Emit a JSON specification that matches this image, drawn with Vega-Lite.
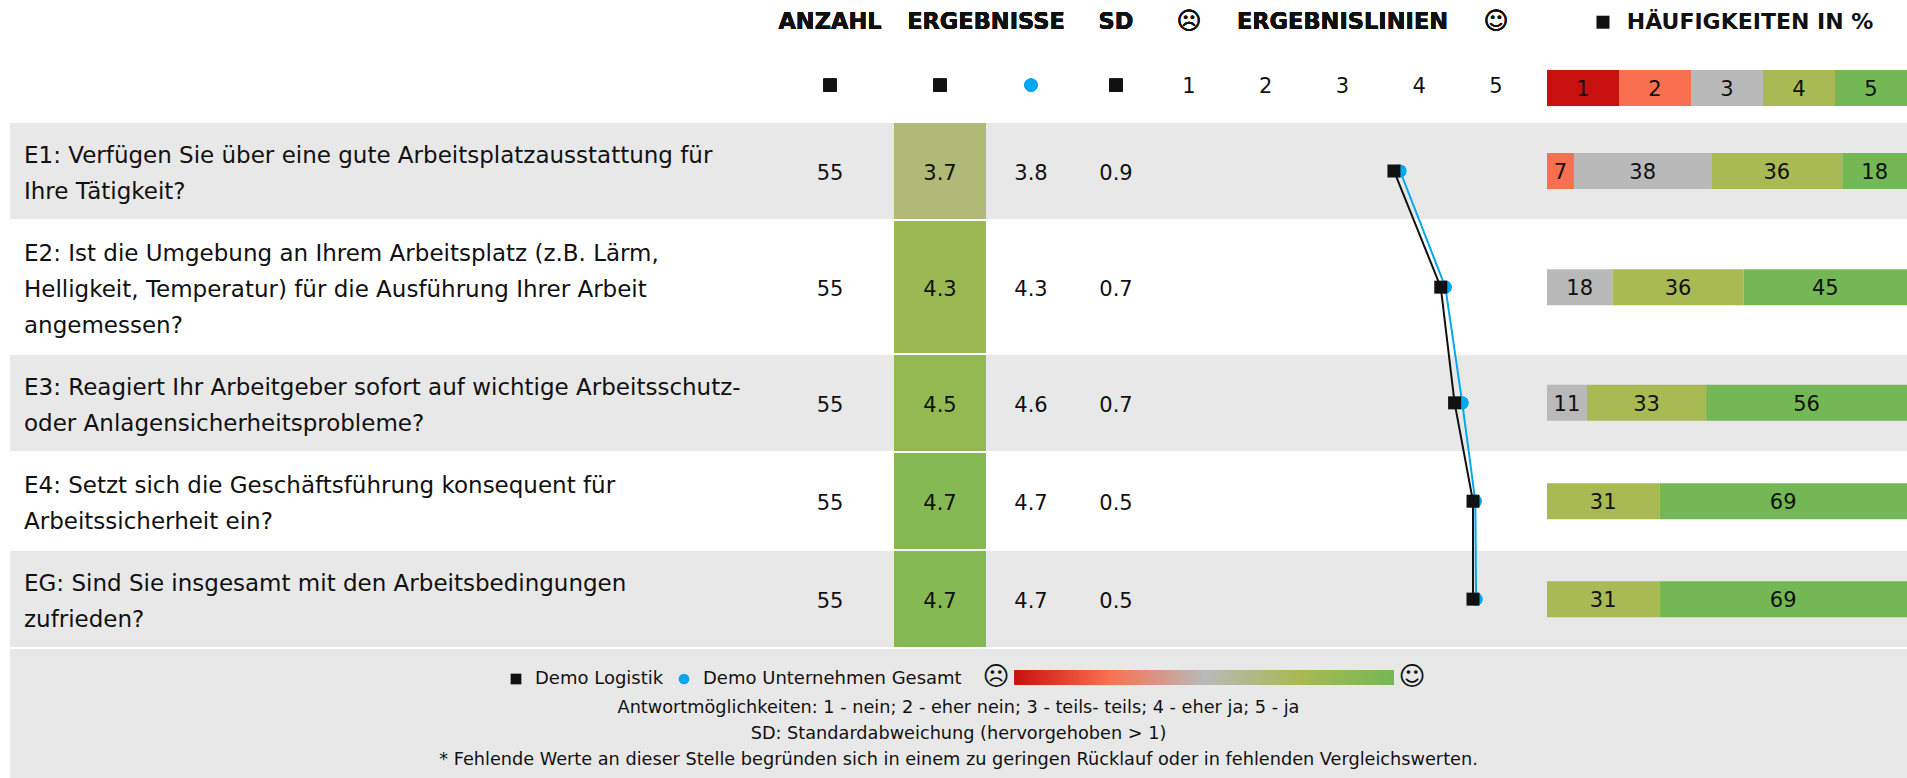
{
"$schema":"https://vega.github.io/schema/vega-lite/v6.json",
"padding":{"left":10,"top":0,"right":0,"bottom":0},
"spacing":2,
"config":{"view":{"stroke":null},"axis":{"disable":true},"text":{"font":"DejaVu Sans","fontSize":21,"color":"#111111"},"concat":{"spacing":0}},
"datasets":{
"rows":[
{"id":"E1","question":"E1: Verfügen Sie über eine gute Arbeitsplatzausstattung für\nIhre Tätigkeit?","n":55,"own":3.67,"other":3.75,"sd":0.9,"rowStart":0,"rowEnd":2,"mid":1},
{"id":"E2","question":"E2: Ist die Umgebung an Ihrem Arbeitsplatz (z.B. Lärm,\nHelligkeit, Temperatur) für die Ausführung Ihrer Arbeit\nangemessen?","n":55,"own":4.28,"other":4.34,"sd":0.7,"rowStart":2,"rowEnd":4.833,"mid":3.42},
{"id":"E3","question":"E3: Reagiert Ihr Arbeitgeber sofort auf wichtige Arbeitsschutz-\noder Anlagensicherheitsprobleme?","n":55,"own":4.46,"other":4.56,"sd":0.7,"rowStart":4.833,"rowEnd":6.833,"mid":5.83},
{"id":"E4","question":"E4: Setzt sich die Geschäftsführung konsequent für\nArbeitssicherheit ein?","n":55,"own":4.7,"other":4.73,"sd":0.5,"rowStart":6.833,"rowEnd":8.917,"mid":7.88},
{"id":"EG","question":"EG: Sind Sie insgesamt mit den Arbeitsbedingungen\nzufrieden?","n":55,"own":4.7,"other":4.74,"sd":0.5,"rowStart":8.917,"rowEnd":10.917,"mid":9.92}
],
"freq":[
{"id":"key","mid":-0.73,"answer":1,"pct":20},{"id":"key","mid":-0.73,"answer":2,"pct":20},{"id":"key","mid":-0.73,"answer":3,"pct":20},{"id":"key","mid":-0.73,"answer":4,"pct":20},{"id":"key","mid":-0.73,"answer":5,"pct":20},
{"id":"E1","mid":1,"answer":2,"pct":7.49},{"id":"E1","mid":1,"answer":3,"pct":38.18},{"id":"E1","mid":1,"answer":4,"pct":36.36},{"id":"E1","mid":1,"answer":5,"pct":17.97},
{"id":"E2","mid":3.42,"answer":3,"pct":18.18},{"id":"E2","mid":3.42,"answer":4,"pct":36.45},{"id":"E2","mid":3.42,"answer":5,"pct":45.37},
{"id":"E3","mid":5.83,"answer":3,"pct":11.1},{"id":"E3","mid":5.83,"answer":4,"pct":33.1},{"id":"E3","mid":5.83,"answer":5,"pct":55.8},
{"id":"E4","mid":7.88,"answer":4,"pct":31.2},{"id":"E4","mid":7.88,"answer":5,"pct":68.8},
{"id":"EG","mid":9.92,"answer":4,"pct":31.2},{"id":"EG","mid":9.92,"answer":5,"pct":68.8}
]
},
"vconcat":[
{"hconcat":[
{"width":766,"height":647,"data":{"name":"rows"},"layer":[
{"transform":[{"filter":"indexof(['E1','E3','EG'],datum.id)>=0"}],"mark":{"type":"rect","color":"#e8e8e8"},"encoding":{"y":{"field":"rowStart","type":"quantitative","scale":{"domain":[-2.5625,10.917],"reverse":true,"nice":false,"zero":false}},"y2":{"field":"rowEnd"}}},
{"transform":[{"calculate":"datum.mid-(length(split(datum.question,'\\n'))-1)*0.375","as":"firstLine"}],"mark":{"type":"text","align":"left","dx":14,"dy":3,"fontSize":23,"lineBreak":"\n","lineHeight":36},"encoding":{"x":{"datum":0,"type":"quantitative","scale":{"domain":[0,1]}},"y":{"field":"firstLine","type":"quantitative"},"text":{"field":"question"}}}
]},
{"width":108,"height":647,"data":{"name":"rows"},"layer":[
{"transform":[{"filter":"indexof(['E1','E3','EG'],datum.id)>=0"}],"mark":{"type":"rect","color":"#e8e8e8"},"encoding":{"y":{"field":"rowStart","type":"quantitative","scale":{"domain":[-2.5625,10.917],"reverse":true,"nice":false,"zero":false}},"y2":{"field":"rowEnd"}}},
{"mark":{"type":"text","dy":3},"encoding":{"y":{"field":"mid","type":"quantitative"},"text":{"field":"n"}}},
{"mark":{"type":"text","fontWeight":"bold","fontSize":22.5},"encoding":{"y":{"datum":-2.1,"type":"quantitative"},"text":{"value":"ANZAHL"}}},
{"mark":{"type":"point","shape":"square","filled":true,"size":169,"color":"#111111","opacity":1},"encoding":{"y":{"datum":-0.79,"type":"quantitative"}}}
]},
{"width":10,"height":647,"data":{"name":"rows"},"layer":[
{"transform":[{"filter":"indexof(['E1','E3','EG'],datum.id)>=0"}],"mark":{"type":"rect","color":"#e8e8e8"},"encoding":{"y":{"field":"rowStart","type":"quantitative","scale":{"domain":[-2.5625,10.917],"reverse":true,"nice":false,"zero":false}},"y2":{"field":"rowEnd"}}}
]},
{"width":92,"height":647,"data":{"name":"rows"},"layer":[
{"mark":{"type":"rect"},"encoding":{"y":{"field":"rowStart","type":"quantitative","scale":{"domain":[-2.5625,10.917],"reverse":true,"nice":false,"zero":false}},"y2":{"field":"rowEnd"},"color":{"field":"own","type":"quantitative","legend":null,"scale":{"domain":[1,2,3,4,5],"range":["#c8100e","#f97050","#b9b9b9","#a9b953","#74b855"]}}}},
{"data":{"values":[{"gap":2.02},{"gap":4.8125},{"gap":6.854},{"gap":8.896}]},"mark":{"type":"rule","color":"#ffffff","size":2},"encoding":{"y":{"field":"gap","type":"quantitative"}}},
{"mark":{"type":"text","dy":3},"encoding":{"y":{"field":"mid","type":"quantitative"},"text":{"field":"own","format":".1f"}}},
{"mark":{"type":"text","fontWeight":"bold","fontSize":22.5},"encoding":{"x":{"datum":1,"type":"quantitative","scale":{"domain":[0,1]}},"y":{"datum":-2.1,"type":"quantitative"},"text":{"value":"ERGEBNISSE"}}},
{"mark":{"type":"point","shape":"square","filled":true,"size":169,"color":"#111111","opacity":1},"encoding":{"y":{"datum":-0.79,"type":"quantitative"}}}
]},
{"width":90,"height":647,"data":{"name":"rows"},"layer":[
{"transform":[{"filter":"indexof(['E1','E3','EG'],datum.id)>=0"}],"mark":{"type":"rect","color":"#e8e8e8"},"encoding":{"y":{"field":"rowStart","type":"quantitative","scale":{"domain":[-2.5625,10.917],"reverse":true,"nice":false,"zero":false}},"y2":{"field":"rowEnd"}}},
{"mark":{"type":"text","dy":3},"encoding":{"y":{"field":"mid","type":"quantitative"},"text":{"field":"other","format":".1f"}}},
{"mark":{"type":"point","shape":"circle","filled":true,"size":175,"color":"#00a8f0","opacity":1},"encoding":{"y":{"datum":-0.79,"type":"quantitative"}}}
]},
{"width":80,"height":647,"data":{"name":"rows"},"layer":[
{"transform":[{"filter":"indexof(['E1','E3','EG'],datum.id)>=0"}],"mark":{"type":"rect","color":"#e8e8e8"},"encoding":{"y":{"field":"rowStart","type":"quantitative","scale":{"domain":[-2.5625,10.917],"reverse":true,"nice":false,"zero":false}},"y2":{"field":"rowEnd"}}},
{"mark":{"type":"text","dy":3},"encoding":{"y":{"field":"mid","type":"quantitative"},"text":{"field":"sd","format":".1f"}}},
{"mark":{"type":"text","fontWeight":"bold","fontSize":22.5},"encoding":{"y":{"datum":-2.1,"type":"quantitative"},"text":{"value":"SD"}}},
{"mark":{"type":"point","shape":"square","filled":true,"size":169,"color":"#111111","opacity":1},"encoding":{"y":{"datum":-0.79,"type":"quantitative"}}}
]},
{"width":391,"height":647,"data":{"name":"rows"},"layer":[
{"transform":[{"filter":"indexof(['E1','E3','EG'],datum.id)>=0"}],"mark":{"type":"rect","color":"#e8e8e8"},"encoding":{"y":{"field":"rowStart","type":"quantitative","scale":{"domain":[-2.5625,10.917],"reverse":true,"nice":false,"zero":false}},"y2":{"field":"rowEnd"}}},
{"mark":{"type":"line","color":"#00a8f0","strokeWidth":2},"encoding":{"x":{"field":"other","type":"quantitative","scale":{"domain":[0.57,5.664],"nice":false,"zero":false}},"y":{"field":"mid","type":"quantitative"},"order":{"field":"mid"}}},
{"mark":{"type":"line","color":"#111111","strokeWidth":2},"encoding":{"x":{"field":"own","type":"quantitative"},"y":{"field":"mid","type":"quantitative"},"order":{"field":"mid"}}},
{"mark":{"type":"point","shape":"circle","filled":true,"size":175,"color":"#00a8f0","opacity":1},"encoding":{"x":{"field":"other","type":"quantitative"},"y":{"field":"mid","type":"quantitative"}}},
{"mark":{"type":"point","shape":"square","filled":true,"size":169,"color":"#111111","opacity":1},"encoding":{"x":{"field":"own","type":"quantitative"},"y":{"field":"mid","type":"quantitative"}}},
{"data":{"values":[{"score":1},{"score":2},{"score":3},{"score":4},{"score":5}]},"mark":{"type":"text","dy":2},"encoding":{"x":{"field":"score","type":"quantitative"},"y":{"datum":-0.79,"type":"quantitative"},"text":{"field":"score"}}},
{"mark":{"type":"text","fontWeight":"bold","fontSize":22.5},"encoding":{"x":{"datum":3,"type":"quantitative"},"y":{"datum":-2.1,"type":"quantitative"},"text":{"value":"ERGEBNISLINIEN"}}},
{"mark":{"type":"text","fontSize":24},"encoding":{"x":{"datum":1,"type":"quantitative"},"y":{"datum":-2.1,"type":"quantitative"},"text":{"value":"☹"}}},
{"mark":{"type":"text","fontSize":24},"encoding":{"x":{"datum":5,"type":"quantitative"},"y":{"datum":-2.1,"type":"quantitative"},"text":{"value":"☺"}}}
]},
{"width":360,"height":647,"layer":[
{"data":{"name":"rows"},"transform":[{"filter":"indexof(['E1','E3','EG'],datum.id)>=0"}],"mark":{"type":"rect","color":"#e8e8e8"},"encoding":{"x":{"datum":0,"type":"quantitative","scale":{"domain":[0,100],"nice":false,"zero":false}},"x2":{"datum":100},"y":{"field":"rowStart","type":"quantitative","scale":{"domain":[-2.5625,10.917],"reverse":true,"nice":false,"zero":false,"padding":0}},"y2":{"field":"rowEnd"}}},
{"data":{"name":"freq"},"transform":[{"stack":"pct","groupby":["id"],"sort":[{"field":"answer","order":"ascending"}],"as":["x0","x1"]}],"mark":{"type":"bar","orient":"horizontal","size":36,"clip":true},"encoding":{"x":{"field":"x0","type":"quantitative"},"x2":{"field":"x1"},"y":{"field":"mid","type":"quantitative"},"color":{"field":"answer","type":"ordinal","legend":null,"scale":{"domain":[1,2,3,4,5],"range":["#c8100e","#f97050","#b9b9b9","#a9b953","#74b855"]}}}},
{"data":{"name":"freq"},"transform":[{"stack":"pct","groupby":["id"],"sort":[{"field":"answer","order":"ascending"}],"as":["x0","x1"]},{"calculate":"(datum.x0+datum.x1)/2","as":"xm"},{"calculate":"datum.id==='key'?datum.answer:round(datum.pct)","as":"label"}],"mark":{"type":"text","dy":2},"encoding":{"x":{"field":"xm","type":"quantitative"},"y":{"field":"mid","type":"quantitative"},"text":{"field":"label"}}},
{"data":{"values":[{"label":"HÄUFIGKEITEN IN %"}]},"mark":{"type":"text","fontWeight":"bold","fontSize":22},"encoding":{"x":{"datum":56.4,"type":"quantitative"},"y":{"datum":-2.1,"type":"quantitative"},"text":{"field":"label"}}},
{"data":{"values":[{"label":"key"}]},"mark":{"type":"point","shape":"square","filled":true,"size":169,"color":"#111111","opacity":1},"encoding":{"x":{"datum":15.55,"type":"quantitative"},"y":{"datum":-2.1,"type":"quantitative"}}}
]}
],"spacing":0,"bounds":"flush"},
{"width":1897,"height":129,"view":{"fill":"#e8e8e8"},"layer":[
{"data":{"values":[{"series":"Demo Logistik"},{"series":"Demo Unternehmen Gesamt"}]},"mark":{"type":"point","filled":true,"size":0,"opacity":1},"encoding":{"color":{"field":"series","type":"nominal","scale":{"domain":["Demo Logistik","Demo Unternehmen Gesamt"],"range":["#111111","#00a8f0"]},"legend":{"title":null,"orient":"none","legendX":497,"legendY":670,"direction":"horizontal","symbolSize":115,"symbolStrokeWidth":0,"symbolOpacity":1,"labelFont":"DejaVu Sans","labelFontSize":18,"labelColor":"#111111","labelLimit":400,"columnPadding":11,"labelOffset":10}},"shape":{"field":"series","type":"nominal","scale":{"domain":["Demo Logistik","Demo Unternehmen Gesamt"],"range":["square","circle"]},"legend":{"title":null}}}},
{"data":{"values":[{"line":2,"note":"Antwortmöglichkeiten: 1 - nein; 2 - eher nein; 3 - teils- teils; 4 - eher ja; 5 - ja"},{"line":3,"note":"SD: Standardabweichung (hervorgehoben > 1)"},{"line":4,"note":"* Fehlende Werte an dieser Stelle begründen sich in einem zu geringen Rücklauf oder in fehlenden Vergleichswerten."}]},"mark":{"type":"text","fontSize":17.7},"encoding":{"y":{"field":"line","type":"quantitative","scale":{"domain":[-0.27,4.69],"reverse":true,"nice":false,"zero":false}},"text":{"field":"note"}}},
{"data":{"values":[{"from":1,"to":5}]},"mark":{"type":"rect","color":{"gradient":"linear","x1":0,"x2":1,"y1":0,"y2":0,"stops":[{"offset":0,"color":"#c8100e"},{"offset":0.25,"color":"#f97050"},{"offset":0.5,"color":"#b9b9b9"},{"offset":0.75,"color":"#a9b953"},{"offset":1,"color":"#74b855"}]}},"encoding":{"x":{"field":"from","type":"quantitative","scale":{"domain":[-9.57,10.4],"nice":false,"zero":false}},"x2":{"field":"to"},"y":{"datum":0.54,"type":"quantitative"},"y2":{"datum":1.115}}},
{"data":{"values":[{"score":1,"face":"☹"}]},"mark":{"type":"text","fontSize":26,"dx":-18},"encoding":{"x":{"field":"score","type":"quantitative"},"y":{"datum":0.81,"type":"quantitative"},"text":{"field":"face"}}},
{"data":{"values":[{"score":5,"face":"☺"}]},"mark":{"type":"text","fontSize":26,"dx":18},"encoding":{"x":{"field":"score","type":"quantitative"},"y":{"datum":0.81,"type":"quantitative"},"text":{"field":"face"}}}
]}
]
}
